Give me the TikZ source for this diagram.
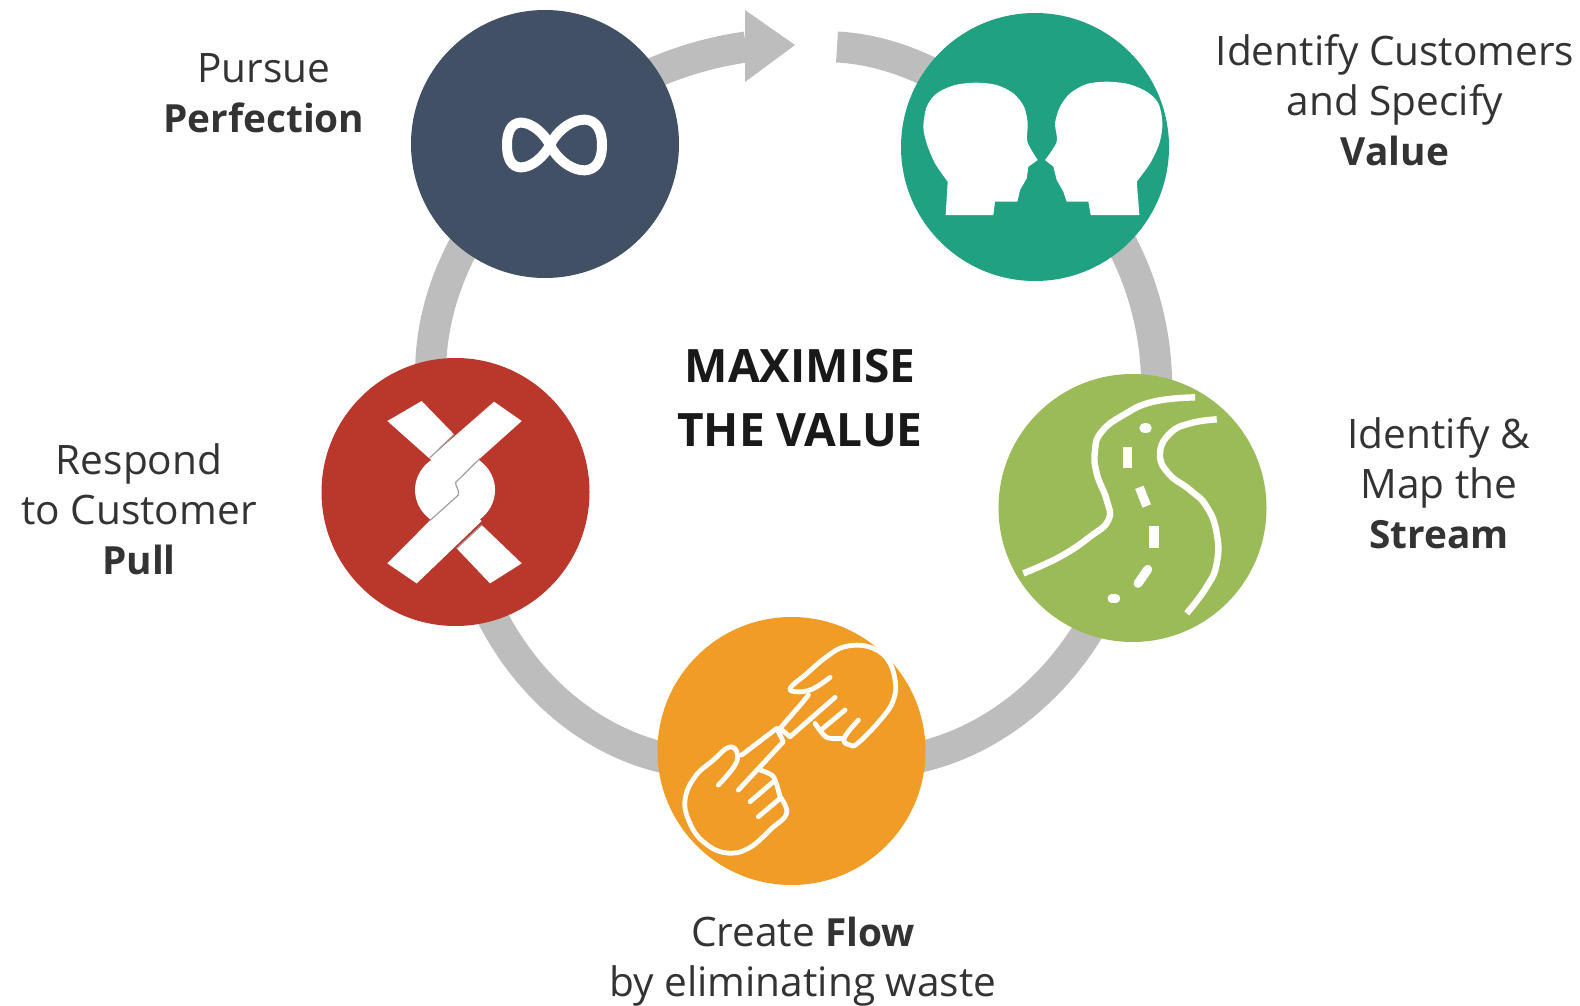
\documentclass[tikz,border=0pt]{standalone}
\usepackage{fontspec}
\setmainfont{Open Sans}
\usetikzlibrary{backgrounds}
\definecolor{ringc}{HTML}{BDBDBD}
\definecolor{navyc}{HTML}{415064}
\definecolor{tealc}{HTML}{1FA182}
\definecolor{greenc}{HTML}{9BBB59}
\definecolor{orangec}{HTML}{F19C26}
\definecolor{redc}{HTML}{B9372B}
\definecolor{txt}{HTML}{333333}
\newcommand{\boldword}[1]{{\fontsize{19.4}{25}\selectfont\bfseries #1}}
\tikzset{
 stepdisc/.style={circle,minimum size=134pt,inner sep=0pt,fill=#1},
 ringline/.style={draw=ringc,line width=15.5pt},
 label/.style={align=center,text=txt,font=\fontsize{20.3}{25}\selectfont},
 icon/.style={fill=white,draw=none},
 iconline/.style={draw=white,line width=2.4pt,line cap=round,line join=round},
 roadline/.style={draw=white,line width=3.2pt,line join=round},
 roaddash/.style={draw=white,line width=#1},
 knotline/.style={draw=gray!75,line width=0.6pt},
}
\begin{document}
\begin{tikzpicture}[x=0.5pt,y=-0.5pt]
\useasboundingbox (0,0) rectangle (1580,1006);
\node[stepdisc=navyc] (navy) at (545,144) {};
\node[stepdisc=tealc] (teal) at (1035,147) {};
\node[stepdisc=greenc] (green) at (1132.5,508) {};
\node[stepdisc=orangec] (orange) at (791.5,751) {};
\node[stepdisc=redc] (red) at (455.5,492) {};
\coordinate (arrowend) at (746,47);
\coordinate (arrowtip) at (795,45);
\coordinate (gapstart) at (837,47);
\begin{pgfonlayer}{background}
\draw[ringline] (teal.center) .. controls (1140,215) and (1190,370) .. (green.center);
\draw[ringline] (green.center) .. controls (1110,670) and (960,805) .. (orange.center);
\draw[ringline] (orange.center) .. controls (630,805) and (475,680) .. (red.center);
\draw[ringline] (red.center) .. controls (400,360) and (440,240) .. (navy.center);
\draw[ringline] (navy.center) to[out=43,in=188,looseness=0.87] (arrowend);
\draw[ringline] (gapstart) to[out=-3,in=137,looseness=0.87] (teal.center);
\fill[ringc] (arrowtip) -- (745,10) -- (745,82) -- cycle;
\end{pgfonlayer}
% infinity
\draw[draw=white,line width=5pt,line join=round] (550,145) .. controls (538,122) and (507,109) .. (507,145) .. controls (507,181) and (538,168) .. (550,145) .. controls (563,118) and (602,105) .. (602,145) .. controls (602,185) and (563,172) .. (550,145) -- cycle;
% heads
\begin{scope}[shift={(880,0)},x=0.1667pt,y=-0.1667pt]
\fill[icon] (197,645)--(203,545) -- plot[smooth] coordinates {(203,545)(165,490)(140,430)(130,380)(140,320)(170,280)(225,255)(290,248)(350,255)(400,280)(432,320)(443,370)(442,425)(473,480)} --(445,500)--(440,535)--(420,570)--(412,605)--(345,605)--(340,645)--cycle;
\fill[icon] (778,645)--(770,545) -- plot[smooth] coordinates {(770,545)(810,490)(838,430)(847,370)(835,310)(800,275)(745,252)(680,245)(620,252)(570,280)(540,320)(525,370)(530,425)(495,480)} --(520,500)--(530,540)--(550,575)--(560,605)--(625,605)--(632,645)--cycle;
\end{scope}
% road
\begin{scope}[shift={(980,360)},x=0.1667pt,y=-0.1667pt]
\draw[roadline] plot[smooth,tension=0.8] coordinates {(645,112)(520,125)(430,165)(365,215)(345,270)(350,340)(380,420)(385,480)(330,530)(240,590)(130,640)};
\draw[roadline] plot[smooth,tension=0.8] coordinates {(710,178)(630,190)(570,220)(540,280)(565,340)(630,390)(680,440)(710,520)(710,610)(680,680)(620,760)};
\draw[roaddash=5pt,line cap=round] (493,205)--(500,205);
\draw[roaddash=4.5pt] (442,262)--(442,325);
\draw[roaddash=4.5pt] (478,382)--(500,438);
\draw[roaddash=5pt] (523,498)--(523,565);
\draw[roaddash=4.5pt,line cap=round] (503,628)--(474,670);
\draw[roaddash=4.2pt,line cap=round] (395,715)--(408,715);
\end{scope}
% hands
\begin{scope}[shift={(645,600)},x=0.1667pt,y=-0.1667pt]
\draw[iconline] plot[smooth,tension=0.7] coordinates {(555,232)(500,268)(450,275)(437,262)(480,225)(545,170)(600,140)(670,140)(725,175)(750,240)(745,300)(710,355)(640,428)(615,435)(597,415)(640,360)};
\draw[iconline] (570,292)--(435,410)--(405,385)--(470,310)--(490,285);
\draw[iconline] (600,330)--(530,388);
\draw[iconline] plot[smooth] coordinates {(510,370)(545,412)(597,415)};
\draw[iconline] plot[smooth,tension=0.7] coordinates {(220,555)(270,495)(275,455)(250,442)(205,480)(150,530)(120,600)(135,670)(175,725)(240,758)(310,745)(380,685)(425,640)(405,590)};
\draw[iconline] (280,570)--(415,425)--(395,385)--(290,465);
\draw[iconline] (315,605)--(385,545);
\draw[iconline] (340,650)--(405,595);
\draw[iconline] plot[smooth] coordinates {(345,510)(385,530)(405,590)};
\end{scope}
% knot
\begin{scope}[shift={(310,345)},x=0.1667pt,y=-0.1667pt]
\fill[icon] (232,228)--(335,168)--(432,268)--(358,340)--cycle;
\fill[icon] (552,170)--(635,228)--(510,340)--(432,410)--(358,340)--cycle;
\fill[icon] (435,435) ellipse [x radius=120,y radius=112];
\fill[icon] (232,655)--(320,715)--(515,528)--(440,450)--(358,528)--cycle;
\fill[icon] (635,655)--(540,715)--(440,610)--(515,540)--cycle;
\draw[knotline] (432,268)--(358,340);
\draw[knotline] (510,340)--(437,412) .. controls (435,425) and (450,435) .. (445,450)--(358,528);
\draw[knotline] (515,540)--(440,610);
\end{scope}
% texts
\node[label] (pursue) at (264,93) {Pursue\\\boldword{Perfection}};
\node[label] (identify) at (1395,100) {Identify Customers\\and Specify\\\boldword{Value}};
\node[label] (map) at (1439,483) {Identify \&\\Map the\\\boldword{Stream}};
\node[label] (flow) at (803,962) {Create \boldword{Flow}\\by eliminating waste};
\node[label] (pull) at (139,509) {Respond\\to Customer\\\boldword{Pull}};
\node[align=center,text=black!90,font=\fontsize{23}{32}\selectfont\bfseries] (center) at (800,398) {MAXIMISE\\THE VALUE};
\end{tikzpicture}
\end{document}
